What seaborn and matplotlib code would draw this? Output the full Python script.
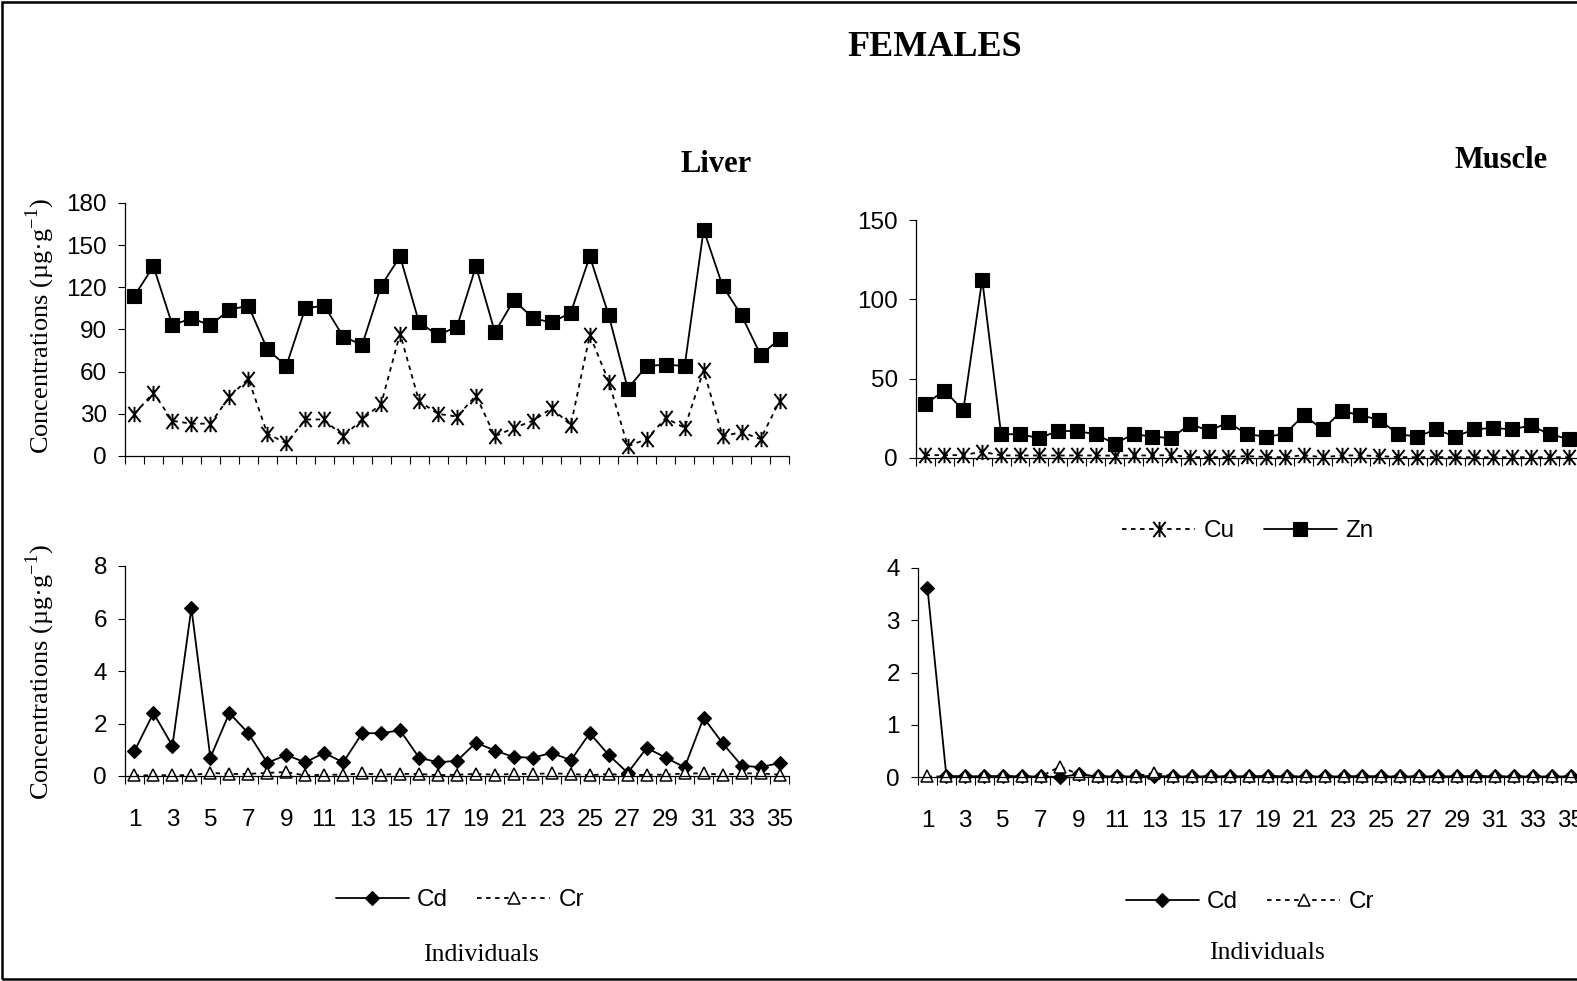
import numpy as np
import matplotlib
matplotlib.use("Agg")
import matplotlib.pyplot as plt
from matplotlib.path import Path
from matplotlib.patches import Rectangle
from matplotlib import font_manager
import seaborn as sns

# individuals 1..35
individuals = list(range(1, 36))
odd_labels = list(range(1, 36, 2))

# liver, ug/g
liver_zn = [114, 135, 93, 98, 93, 104, 107, 76, 64, 105, 107, 85, 79, 121, 142,
            95, 86, 92, 135, 88, 111, 98, 95, 102, 142, 100, 48, 64, 65, 64,
            161, 121, 100, 72, 83]
liver_cu = [30, 45, 25, 23, 23, 42, 55, 16, 9, 26, 26, 14, 26, 37, 87,
            39, 30, 28, 43, 14, 20, 25, 34, 22, 86, 53, 7, 12, 27, 20,
            61, 14, 17, 12, 39]
liver_cd = [0.95, 2.4, 1.15, 6.4, 0.7, 2.4, 1.63, 0.5, 0.8, 0.52, 0.88, 0.52, 1.63, 1.63, 1.74,
            0.7, 0.52, 0.58, 1.27, 0.97, 0.72, 0.7, 0.88, 0.6, 1.63, 0.8, 0.12, 1.07, 0.7, 0.33,
            2.22, 1.25, 0.4, 0.33, 0.5]
liver_cr = [0.02, 0.03, 0.03, 0.03, 0.12, 0.08, 0.08, 0.12, 0.15, 0.02, 0.05, 0.05, 0.1, 0.05, 0.08,
            0.08, 0.03, 0.05, 0.08, 0.05, 0.08, 0.08, 0.1, 0.08, 0.03, 0.08, 0.02, 0.05, 0.05, 0.1,
            0.1, 0.05, 0.1, 0.1, 0.05]

# muscle, ug/g
muscle_zn = [34, 42.5, 30, 112.5, 15, 15, 12.5, 17, 17, 15, 9, 15, 13.5, 12.5, 21.5,
             17, 22.5, 15, 13.5, 15, 27, 18, 29.5, 27, 24, 15, 13.5, 18, 13.5, 18,
             19, 18, 20.5, 15, 12]
muscle_cu = [1.8, 1.8, 1.8, 4.0, 1.6, 1.6, 1.6, 1.6, 1.6, 1.6, 1.5, 1.6, 1.6, 1.8, 0.6,
             0.5, 0.6, 1.2, 0.6, 0.5, 1.8, 0.5, 1.6, 1.6, 1.2, 0.6, 0.5, 0.6, 0.5, 0.5,
             0.5, 0.5, 0.5, 0.5, 0.5]
muscle_cd = [3.62, 0.02, 0.01, 0.01, 0.02, 0.01, 0.01, 0.0, 0.05, 0.01, 0.01, 0.01, 0.02, 0.01, 0.01,
             0.01, 0.01, 0.01, 0.02, 0.01, 0.01, 0.01, 0.01, 0.02, 0.01, 0.01, 0.01, 0.01, 0.01, 0.02,
             0.01, 0.01, 0.01, 0.01, 0.01]
muscle_cr = [0.01, 0.01, 0.01, 0.01, 0.01, 0.01, 0.01, 0.2, 0.05, 0.01, 0.01, 0.01, 0.08, 0.01, 0.01,
             0.01, 0.01, 0.01, 0.01, 0.01, 0.01, 0.01, 0.01, 0.01, 0.01, 0.01, 0.01, 0.01, 0.01, 0.01,
             0.01, 0.01, 0.01, 0.01, 0.01]

sns.set_theme(style="ticks")
names = {f.name for f in font_manager.fontManager.ttflist}
if "Liberation Sans Narrow" in names:
    plt.rcParams["font.family"] = ["Liberation Sans Narrow", "Liberation Sans"]
    tick_size = 20
else:
    plt.rcParams["font.family"] = ["Liberation Sans"]
    tick_size = 17.5
plt.rcParams["mathtext.fontset"] = "custom"
plt.rcParams["mathtext.rm"] = "Liberation Serif"
plt.rcParams["text.color"] = "black"
plt.rcParams["axes.edgecolor"] = "black"
plt.rcParams["xtick.color"] = "black"
plt.rcParams["ytick.color"] = "black"
serif = "Liberation Serif"

# excel-like asterisk: an X with a vertical bar
star = Path([(-0.8, -1), (0.8, 1), (-0.8, 1), (0.8, -1), (0, -1), (0, 1)],
            [Path.MOVETO, Path.LINETO] * 3)

styles = {
    "Zn": dict(marker="s", ms=9.5, mfc="black", mec="black", mew=0.8, lw=1.3),
    "Cu": dict(marker=star, ms=11, mfc="none", mec="black", mew=1.4, lw=1.3, dashes=(2.5, 2.5)),
    "Cd": dict(marker="D", ms=7.5, mfc="black", mec="black", mew=0.8, lw=1.3),
    "Cr": dict(marker="^", ms=9, mfc="white", mec="black", mew=1.1, lw=1.3, dashes=(2.5, 2.5)),
}

W, H = 1577, 981
fig = plt.figure(figsize=(W / 100, H / 100), dpi=100)


def panel(left, right, bottom, top, series, ylim, yticks, labels):
    ax = fig.add_axes([left / W, 1 - bottom / H, (right - left) / W, (bottom - top) / H])
    lines = []
    for name, vals in series:
        sns.lineplot(x=individuals, y=vals, ax=ax, color="black", clip_on=False,
                     legend=False, **styles[name])
        lines.append(ax.lines[-1])
    ax.set_xlim(0.5, 35.5)
    ax.set_ylim(*ylim)
    ax.set_yticks(yticks)
    ax.set_xticks(np.arange(0.5, 36, 1))
    ax.set_xticklabels([])
    if labels:
        ax.set_xticks(odd_labels, minor=True)
        ax.set_xticklabels([str(i) for i in odd_labels], minor=True)
    ax.tick_params(axis="x", which="major", length=6, width=0.8, direction="out")
    ax.tick_params(axis="x", which="minor", length=0, pad=24, labelsize=tick_size)
    ax.tick_params(axis="y", length=5, width=0.8, pad=8, labelsize=tick_size)
    ax.set_xlabel("")
    ax.set_ylabel("")
    for s in ("left", "bottom"):
        ax.spines[s].set_linewidth(0.9)
    sns.despine(ax=ax)
    return ax, lines


ax1, l1 = panel(125, 789, 456, 203, [("Cu", liver_cu), ("Zn", liver_zn)],
                (0, 180), range(0, 181, 30), False)
ax2, l2 = panel(125, 789, 776, 566, [("Cd", liver_cd), ("Cr", liver_cr)],
                (0, 8), range(0, 9, 2), True)
ax3, l3 = panel(916, 1578, 458, 220, [("Cu", muscle_cu), ("Zn", muscle_zn)],
                (0, 150), range(0, 151, 50), False)
ax4, l4 = panel(918, 1580, 777, 568, [("Cd", muscle_cd), ("Cr", muscle_cr)],
                (0, 4), range(0, 5), True)

leg_kw = dict(ncol=2, frameon=False, numpoints=1, handlelength=3.0, handletextpad=0.35,
              columnspacing=1.2, fontsize=tick_size, loc="center")
fig.legend(l3, ["Cu", "Zn"], bbox_to_anchor=(1248 / W, 1 - 531 / H), **leg_kw)
fig.legend(l2, ["Cd", "Cr"], bbox_to_anchor=(460 / W, 1 - 900 / H), **leg_kw)
fig.legend(l4, ["Cd", "Cr"], bbox_to_anchor=(1250 / W, 1 - 902 / H), **leg_kw)

fig.text(935 / W, 1 - 47 / H, "FEMALES", family=serif, weight="bold", fontsize=26,
         ha="center", va="center")
fig.text(716 / W, 1 - 165 / H, "Liver", family=serif, weight="bold", fontsize=22,
         ha="center", va="center")
fig.text(1501 / W, 1 - 160 / H, "Muscle", family=serif, weight="bold", fontsize=22,
         ha="center", va="center")
for x, y in [(481, 955), (1267, 953)]:
    fig.text(x / W, 1 - y / H, "Individuals", family=serif, fontsize=18.5,
             ha="center", va="center")
ylab = "Concentrations (µg·g$^{\\mathregular{-1}}$)"
for y in [326, 672]:
    fig.text(40 / W, 1 - y / H, ylab, family=serif, fontsize=19, rotation=90,
             ha="center", va="center")

# frame around the figure (right side runs off the image)
fig.patches.append(Rectangle((2 / W, 2 / H), 1.02, 1 - 4 / H, transform=fig.transFigure,
                             fill=False, edgecolor="black", lw=1.8))

fig.savefig("out.png", dpi=100)
